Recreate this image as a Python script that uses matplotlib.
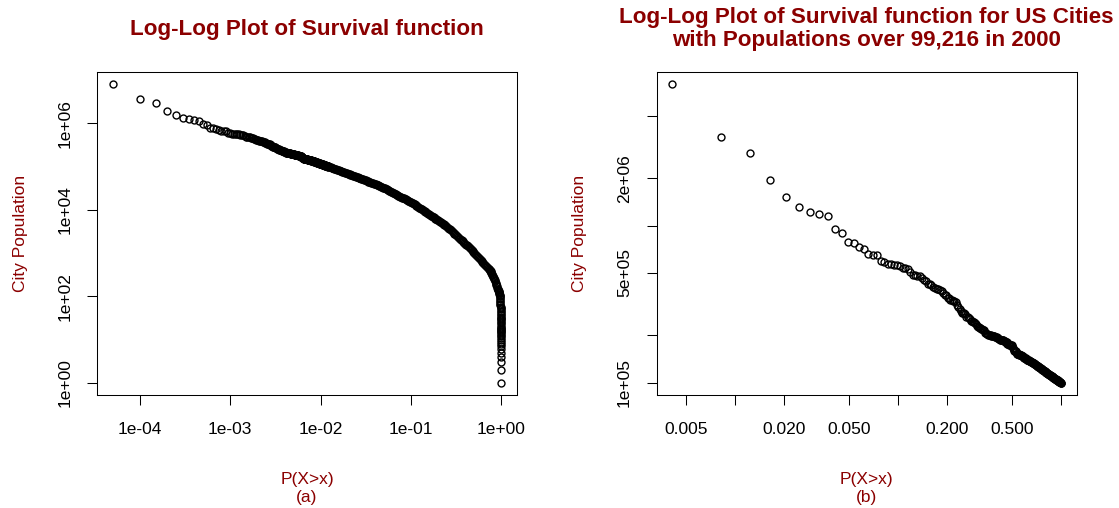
import numpy as np
import matplotlib.pyplot as plt

# 2000 population (thousands) of the 244 largest US cities, largest first
city_pop_k = [
    8008.3, 3694.8, 2896.0, 1953.6, 1517.6, 1321.0, 1223.4, 1188.6, 1144.6, 951.3,
    894.9, 781.9, 776.7, 735.6, 711.5, 656.6, 651.2, 650.1, 597.0, 589.1,
    572.1, 569.9, 563.7, 563.4, 554.6, 540.8, 534.7, 529.1, 506.1, 486.7,
    484.7, 478.4, 478.4, 461.5, 448.6, 441.5, 427.7, 425.3, 416.5, 407.0,
    399.5, 396.4, 393.0, 390.0, 382.6, 371.7, 362.5, 360.9, 348.2, 344.3,
    338.0, 334.6, 333.0, 331.3, 328.0, 313.6, 303.4, 292.6, 287.2, 277.5,
    276.4, 276.1, 273.5, 260.5, 260.3, 256.2, 255.2, 248.2, 247.1, 243.8,
    242.8, 240.1, 234.4, 227.8, 226.4, 225.6, 223.9, 222.0, 219.8, 218.8,
    217.1, 215.8, 208.1, 205.7, 203.4, 202.7, 201.6, 200.1, 199.8, 199.6,
    199.2, 198.9, 198.7, 197.8, 197.8, 196.1, 195.6, 195.0, 193.6, 191.6,
    189.6, 188.9, 187.0, 186.3, 186.0, 185.8, 185.8, 185.4, 184.3, 183.1,
    181.7, 180.5, 180.2, 176.6, 176.6, 175.4, 173.9, 173.6, 173.6, 173.6,
    172.6, 170.4, 166.2, 165.2, 161.0, 158.6, 158.2, 158.0, 155.6, 152.4,
    152.1, 151.6, 151.1, 151.1, 150.6, 150.1, 149.5, 149.2, 149.1, 147.6,
    147.3, 146.9, 146.4, 144.1, 143.6, 143.1, 143.0, 142.4, 141.7, 140.0,
    139.7, 139.5, 139.4, 138.2, 137.9, 137.9, 137.4, 136.9, 136.0, 135.5,
    134.8, 134.3, 133.9, 133.4, 133.0, 132.4, 131.9, 131.0, 130.6, 130.1,
    129.4, 128.9, 128.1, 127.8, 127.2, 126.5, 126.0, 125.6, 125.0, 124.5,
    124.0, 123.4, 123.0, 122.4, 121.9, 121.4, 120.8, 120.4, 119.9, 119.4,
    119.0, 118.5, 118.0, 117.6, 117.1, 116.6, 116.3, 115.8, 115.3, 114.9,
    114.5, 114.1, 113.6, 113.2, 112.8, 112.4, 112.0, 111.6, 111.2, 110.8,
    110.4, 110.0, 109.7, 109.3, 108.9, 108.5, 108.2, 107.8, 107.4, 107.0,
    106.7, 106.3, 106.0, 105.6, 105.3, 105.0, 104.6, 104.3, 103.9, 103.6,
    103.3, 103.0, 102.6, 102.3, 102.0, 101.7, 101.4, 101.1, 100.8, 100.5,
    100.2, 99.9, 99.5, 99.216,
]

# smaller places: rank among all places and population
place_rank = [
    252, 264, 276, 289, 303, 317, 332, 348, 364, 381,
    399, 418, 438, 458, 480, 502, 526, 551, 577, 604, 632, 662, 693, 726, 760, 796, 834, 873,
    914, 957, 1002, 1050, 1099, 1151, 1205, 1262, 1321, 1384, 1449, 1517, 1589, 1664, 1742,
    1824, 1910, 2000, 2094,
    2193, 2296, 2405, 2518, 2637, 2761, 2891, 3027, 3170, 3319, 3476, 3640, 3811, 3991, 4179,
    4376, 4582, 4798,
    5024, 5261, 5509, 5768, 6040, 6325, 6623, 6935, 7262, 7604, 7962, 8338, 8730, 9142, 9573,
    10024, 10496, 10991, 11509, 12052, 12619, 13214, 13837, 14489,
    14825, 15172, 15524, 15887, 16255, 16636, 17022, 17420, 17825, 18240, 18500, 18700, 18900, 19100,
    19150, 19210, 19270, 19330, 19390, 19450, 19500, 19550, 19600, 19640,
    19680, 19715, 19750, 19780, 19810, 19830, 19850, 19870, 19890, 19905,
    19920, 19935, 19942, 19949, 19955, 19961, 19967, 19972, 19977, 19981,
    19984, 19987, 19990, 19992, 19994, 19995, 19996, 19997, 19998, 19999, 20000,
]
place_pop = [
    97050, 93760, 90570, 87500, 84530, 81660, 78890, 76210, 73620, 71120,
    68550, 66070, 63680, 61380, 59160, 57020, 54950, 52970, 51050, 49200, 47420, 45710, 44060,
    42460, 40930, 39450, 38020, 36640,
    35160, 33420, 31770, 30200, 28710, 27290, 25940, 24660, 23440, 22280, 21180, 20140, 19140,
    18200, 17300, 16440, 15630, 14860, 14130,
    13240, 12390, 11610, 10860, 10190, 9550, 8930, 8375, 7830, 7345, 6885, 6440, 6040, 5650,
    5300, 4965, 4645, 4355,
    4030, 3680, 3365, 3075, 2810, 2570, 2350, 2150, 1965, 1795, 1640, 1500, 1370, 1255, 1145,
    1030, 925, 830, 745, 668, 600, 538, 483, 434,
    404, 376, 343, 313, 281, 251, 224, 195, 171, 148, 137, 128, 118, 107,
    100, 93, 86, 80, 74, 68, 63, 58, 54, 50,
    46, 43, 40, 37, 34, 32, 30, 28, 26, 24,
    22, 20, 19, 18, 17, 16, 15, 14, 13, 12,
    11, 10, 9, 8, 7, 6, 5, 4, 3, 2, 1,
]

# more places, ranked between the ones above
place_rank_mid = [
    258, 270, 282, 296, 310, 324, 340, 356, 372, 390,
    408, 428, 448, 469, 491, 514, 538, 564, 590, 618, 647, 677, 709, 743, 778, 815, 853, 893,
    935, 979, 1026, 1074, 1125, 1178, 1233, 1291, 1352, 1416, 1483, 1553, 1626, 1703, 1783,
    1867, 1955, 2047, 2143,
    2244, 2350, 2461, 2577, 2699, 2826, 2958, 3098, 3244, 3397, 3557, 3725, 3900, 4084, 4276,
    4478, 4689, 4910,
    5141, 5384, 5637, 5903, 6181, 6473, 6778, 7097, 7432, 7782, 8149, 8532, 8934, 9356, 9797,
    10258, 10742, 11248, 11778, 12333, 12915, 13524, 14160,
    14655, 14998, 15347, 15705, 16070, 16445, 16828, 17220, 17622, 18030, 18370, 18600, 18800,
    19000, 19125,
]
place_pop_mid = [
    95400, 92160, 89020, 86000, 83080, 80260, 77530, 74900, 72360, 69820,
    67300, 64860, 62520, 60260, 58080, 55970, 53950, 52000, 50110, 48300, 46550, 44870, 43250,
    41680, 40180, 38720, 37320, 35890,
    34280, 32580, 30970, 29440, 27990, 26600, 25290, 24040, 22850, 21720, 20650, 19630, 18660,
    17740, 16860, 16030, 15240, 14490, 13680,
    12810, 11990, 11230, 10520, 9865, 9235, 8650, 8100, 7585, 7110, 6660, 6235, 5840, 5470,
    5130, 4800, 4500, 4190,
    3850, 3520, 3215, 2940, 2690, 2460, 2250, 2055, 1880, 1715, 1570, 1435, 1310, 1200, 1085,
    975, 876, 786, 705, 633, 568, 510, 458,
    419, 390, 359, 328, 297, 266, 237, 209, 183, 159, 142, 132, 123,
    112, 103,
]
n_places = 20000

left_xticks = [1e-4, 1e-3, 1e-2, 1e-1, 1.0]
left_xlabels = ['1e-04', '1e-03', '1e-02', '1e-01', '1e+00']
left_yticks = [1, 1e2, 1e4, 1e6]
left_ylabels = ['1e+00', '1e+02', '1e+04', '1e+06']
right_xticks = [0.005, 0.01, 0.02, 0.05, 0.1, 0.2, 0.5, 1.0]
right_xlabels = ['0.005', '', '0.020', '0.050', '', '0.200', '0.500', '']
right_yticks = [1e5, 2e5, 5e5, 1e6, 2e6, 5e6]
right_ylabels = ['1e+05', '', '5e+05', '', '2e+06', '']

dark_red = '#8B0000'
plt.rcParams['font.family'] = ['Liberation Sans', 'DejaVu Sans']


def r_limits(lo, hi):
    # log axis padded by 4% of its range on both sides
    a, b = np.log10(lo), np.log10(hi)
    d = 0.04 * (b - a)
    return 10 ** (a - d), 10 ** (b + d)


def style_axis(ax, xt, xl, yt, yl):
    ax.set_xscale('log')
    ax.set_yscale('log')
    ax.set_xticks(xt)
    ax.set_xticklabels(xl)
    ax.set_yticks(yt)
    ax.set_yticklabels(yl, rotation=90, va='center')
    ax.minorticks_off()
    ax.tick_params(direction='out', length=7.2, width=0.75, labelsize=12.5,
                   colors='black')
    ax.tick_params(axis='x', pad=12.5)
    ax.tick_params(axis='y', pad=10.5)
    for s in ax.spines.values():
        s.set_linewidth(0.75)
        s.set_color('black')


city_pop = np.array(city_pop_k) * 1000
n_city = len(city_pop)
all_rank = np.concatenate([np.arange(1, n_city + 1), place_rank, place_rank_mid])
all_pop = np.concatenate([city_pop, place_pop, place_pop_mid])

fig = plt.figure(figsize=(11.19, 5.08), dpi=100)
W, H = 1119, 508
ax1 = fig.add_axes([97 / W, 113 / H, 420 / W, 323 / H])
ax2 = fig.add_axes([656.7 / W, 113 / H, 420 / W, 323 / H])

mk = dict(ls='none', marker='o', mfc='none', mec='black', ms=5.0, mew=1.0)

# (a) all places
p_all = all_rank / n_places
ax1.plot(p_all, all_pop, **mk)
ax1.set_xlim(*r_limits(p_all.min(), p_all.max()))
ax1.set_ylim(*r_limits(all_pop.min(), all_pop.max()))
style_axis(ax1, left_xticks, left_xlabels, left_yticks, left_ylabels)

# (b) cities only
p_city = np.arange(1, n_city + 1) / n_city
ax2.plot(p_city, city_pop, **mk)
ax2.set_xlim(*r_limits(p_city.min(), p_city.max()))
ax2.set_ylim(*r_limits(city_pop.min(), city_pop.max()))
style_axis(ax2, right_xticks, right_xlabels, right_yticks, right_ylabels)

for ax, tag in ((ax1, '(a)'), (ax2, '(b)')):
    ax.text(0.5, -0.29, 'P(X>x)\n' + tag, transform=ax.transAxes,
            ha='center', va='center', color=dark_red, fontsize=12.5,
            linespacing=1.25)
    ax.text(-0.183, 0.5, 'City Population', transform=ax.transAxes,
            rotation=90, ha='center', va='center', color=dark_red, fontsize=12.5)

fig.text(307 / W, 1 - 29 / H, 'Log-Log Plot of Survival function',
         ha='center', va='center', fontsize=16.1, fontweight='bold', color=dark_red)
fig.text(866 / W, 1 - 29 / H,
         'Log-Log Plot of Survival function for US Cities\n'
         'with Populations over 99,216 in 2000',
         ha='center', va='center', fontsize=16.1, fontweight='bold', color=dark_red,
         linespacing=1.1)

fig.savefig('out.png', dpi=100)
